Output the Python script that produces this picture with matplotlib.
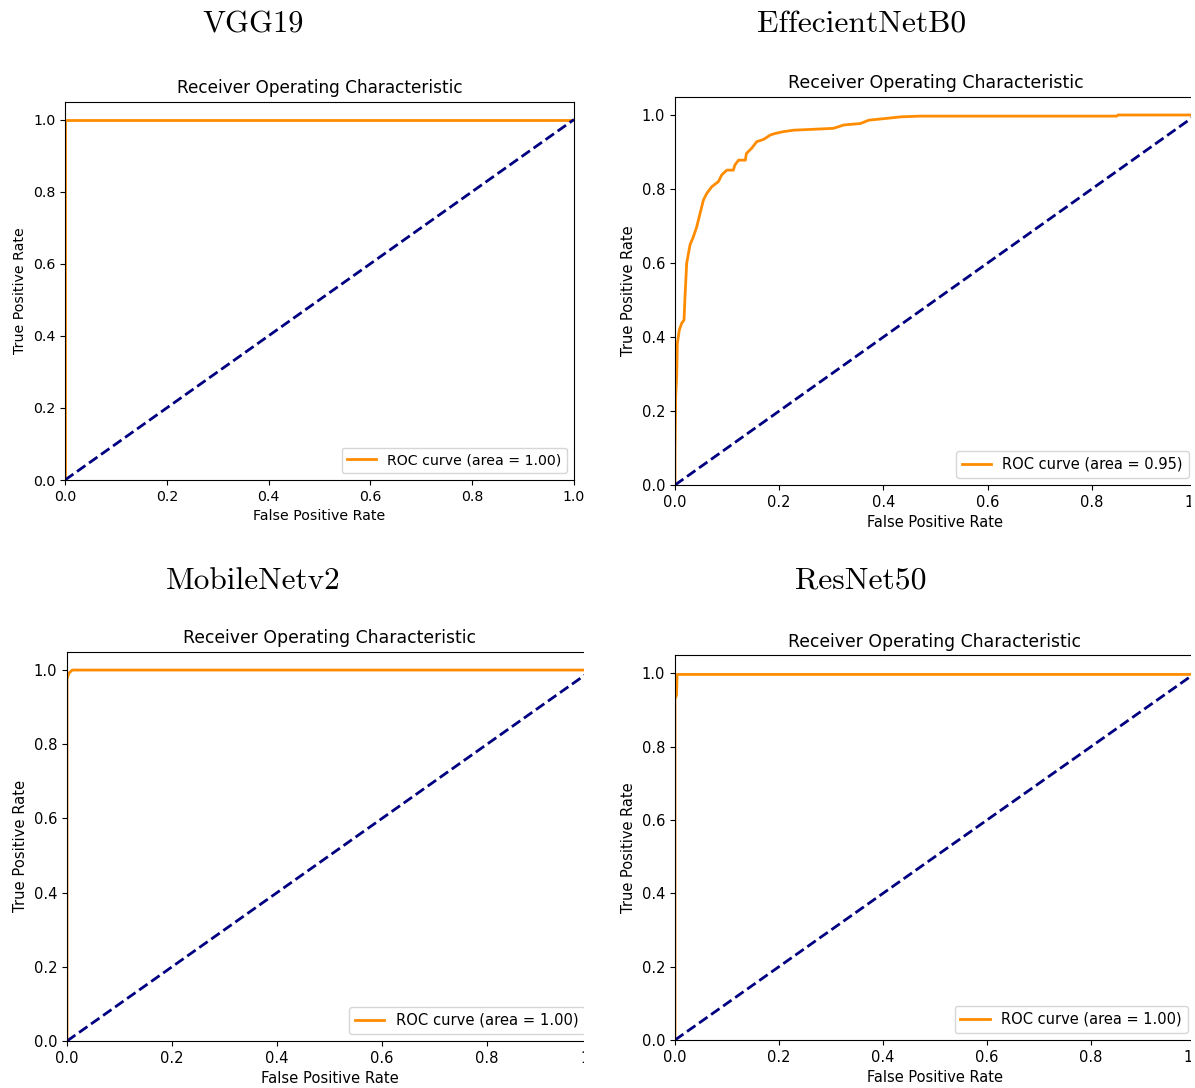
import matplotlib
matplotlib.use("Agg")
import matplotlib.pyplot as plt
import matplotlib.patches as patches

W, H = 1195, 1088

# Dados
MODELOS = ["VGG19", "EffecientNetB0", "MobileNetv2", "ResNet50"]
AUC = [1.00, 0.95, 1.00, 1.00]

vgg_fpr = [0.0, 0.0, 1.0]
vgg_tpr = [0.0, 1.0, 1.0]

eff_fpr = [0.0, 0.0, 0.0013, 0.0032, 0.0045, 0.0083, 0.0128, 0.0173, 0.0192,
           0.0224, 0.0288, 0.0353, 0.0417, 0.0481, 0.0545, 0.0609, 0.0705,
           0.0833, 0.0897, 0.0994, 0.112, 0.115, 0.122, 0.135, 0.137, 0.147,
           0.157, 0.170, 0.183, 0.192, 0.208, 0.228, 0.260, 0.304, 0.324,
           0.356, 0.372, 0.407, 0.433, 0.471, 0.848, 0.850, 1.0]
eff_tpr = [0.0, 0.077, 0.239, 0.293, 0.383, 0.419, 0.437, 0.446, 0.509,
           0.599, 0.649, 0.671, 0.698, 0.734, 0.770, 0.788, 0.806,
           0.820, 0.838, 0.851, 0.851, 0.865, 0.878, 0.878, 0.896, 0.910,
           0.928, 0.934, 0.946, 0.950, 0.955, 0.959, 0.961, 0.964, 0.973,
           0.977, 0.986, 0.991, 0.995, 0.997, 0.997, 1.0, 1.0]

mob_fpr = [0.0, 0.0, 0.002, 0.004, 0.010, 1.0]
mob_tpr = [0.0, 0.975, 0.985, 0.992, 1.0, 1.0]

res_fpr = [0.0, 0.0, 0.003, 0.004, 0.99, 1.0]
res_tpr = [0.0, 0.93, 0.94, 0.997, 0.997, 1.0]

CURVAS = [(vgg_fpr, vgg_tpr), (eff_fpr, eff_tpr), (mob_fpr, mob_tpr), (res_fpr, res_tpr)]

# posições em pixels: esquerda, direita, topo, base
CAIXAS = [(65, 574, 101.5, 480), (675, 1196, 96.5, 485),
          (67, 592, 651.5, 1041), (675, 1195, 655, 1040)]
TITULOS_XY = [(253, 24), (862, 24), (253, 580), (861, 580)]
FONTE = [10.2, 10.5, 10.6, 10.5]
FONTE_TIT = [12.2, 12.5, 12.4, 12.4]
FONTE_PAINEL = [22, 22.7, 22.5, 22.8]


def _px(l, r, t, b):
    return [l / W, 1 - b / H, (r - l) / W, (b - t) / H]


fig = plt.figure(figsize=(W / 100, H / 100), dpi=100, facecolor="white")

for i, nome in enumerate(MODELOS):
    ax = fig.add_axes(_px(*CAIXAS[i]))
    fpr, tpr = CURVAS[i]
    fs = FONTE[i]
    ax.plot(fpr, tpr, color="darkorange", lw=2,
            label=f"ROC curve (area = {AUC[i]:.2f})")
    ax.plot([0, 1], [0, 1], color="navy", lw=2, linestyle="--")
    ax.set_xlim(0.0, 1.0)
    ax.set_ylim(0.0, 1.05)
    ax.set_xlabel("False Positive Rate", fontsize=fs)
    ax.set_ylabel("True Positive Rate", fontsize=fs)
    ax.set_title("Receiver Operating Characteristic", fontsize=FONTE_TIT[i])
    ax.tick_params(labelsize=fs)
    ax.legend(loc="lower right", fontsize=fs)
    tx, ty = TITULOS_XY[i]
    fig.text(tx / W, 1 - (ty + 1) / H, nome, ha="center", va="center",
             fontsize=FONTE_PAINEL[i], family="cmr10")

# recortes das imagens originais (painéis cortados à direita)
for (x0, x1, y0, y1) in [(1191, 1200, 50, 560), (584, 612, 600, 1088),
                         (1191, 1200, 600, 1088)]:
    fig.add_artist(patches.Rectangle((x0 / W, 1 - y1 / H), (x1 - x0) / W,
                                     (y1 - y0) / H, transform=fig.transFigure,
                                     facecolor="white", edgecolor="none",
                                     zorder=10))

fig.savefig("out.png", dpi=100, facecolor="white")
